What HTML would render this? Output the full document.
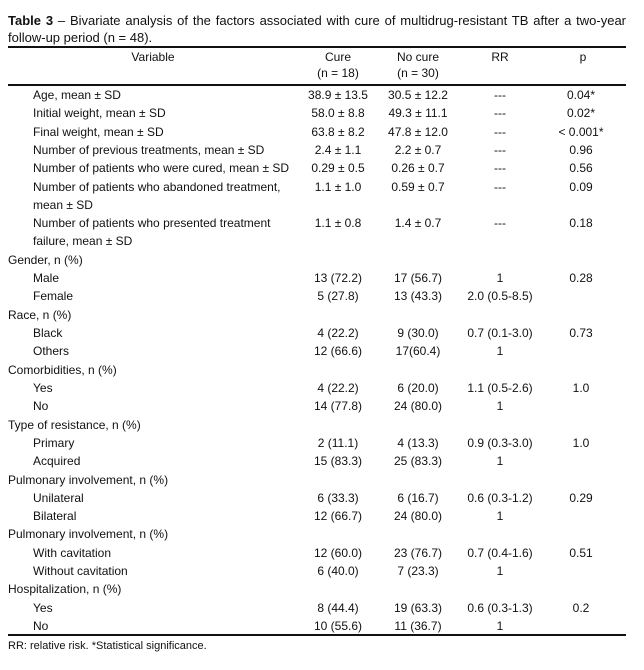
<!DOCTYPE html>
<html>
<head>
<meta charset="utf-8">
<style>
  html,body{margin:0;padding:0;background:#fff;}
  body{width:644px;height:670px;position:relative;overflow:hidden;
       font-family:"Liberation Sans",sans-serif;color:#111;font-size:12px;}
  .t{position:absolute;line-height:16px;white-space:nowrap;}
  .c{position:absolute;line-height:16px;white-space:nowrap;width:120px;text-align:center;}
  .rule{position:absolute;left:8px;width:618px;height:1px;background:#111;}
  .title{position:absolute;left:8px;top:12px;width:618px;font-size:13px;line-height:17px;
         text-align:justify;text-align-last:left;}
  .fn{position:absolute;left:8px;font-size:11px;line-height:14px;white-space:nowrap;}
</style>
</head>
<body>
<div class="title"><b>Table 3</b> – Bivariate analysis of the factors associated with cure of multidrug-resistant TB after a two-year follow-up period (n = 48).</div>

<div class="rule" style="top:46px;height:1.5px;"></div>
<div class="c" style="left:93px;top:49px;">Variable</div>
<div class="c" style="left:278px;top:49px;">Cure</div>
<div class="c" style="left:278px;top:65px;">(n = 18)</div>
<div class="c" style="left:358px;top:49px;">No cure</div>
<div class="c" style="left:358px;top:65px;">(n = 30)</div>
<div class="c" style="left:440px;top:49px;">RR</div>
<div class="c" style="left:523px;top:49px;">p</div>
<div class="rule" style="top:84px;height:1.5px;"></div>

<div class="t" style="left:33px;top:87px;">Age, mean ± SD</div>
<div class="c" style="left:278px;top:87px;">38.9 ± 13.5</div>
<div class="c" style="left:358px;top:87px;">30.5 ± 12.2</div>
<div class="c" style="left:440px;top:87px;">---</div>
<div class="c" style="left:521px;top:87px;">0.04*</div>

<div class="t" style="left:33px;top:105px;">Initial weight, mean ± SD</div>
<div class="c" style="left:278px;top:105px;">58.0 ± 8.8</div>
<div class="c" style="left:358px;top:105px;">49.3 ± 11.1</div>
<div class="c" style="left:440px;top:105px;">---</div>
<div class="c" style="left:521px;top:105px;">0.02*</div>

<div class="t" style="left:33px;top:124px;">Final weight, mean ± SD</div>
<div class="c" style="left:278px;top:124px;">63.8 ± 8.2</div>
<div class="c" style="left:358px;top:124px;">47.8 ± 12.0</div>
<div class="c" style="left:440px;top:124px;">---</div>
<div class="c" style="left:521px;top:124px;">&lt; 0.001*</div>

<div class="t" style="left:33px;top:142px;">Number of previous treatments, mean ± SD</div>
<div class="c" style="left:278px;top:142px;">2.4 ± 1.1</div>
<div class="c" style="left:358px;top:142px;">2.2 ± 0.7</div>
<div class="c" style="left:440px;top:142px;">---</div>
<div class="c" style="left:521px;top:142px;">0.96</div>

<div class="t" style="left:33px;top:160px;">Number of patients who were cured, mean ± SD</div>
<div class="c" style="left:278px;top:160px;">0.29 ± 0.5</div>
<div class="c" style="left:358px;top:160px;">0.26 ± 0.7</div>
<div class="c" style="left:440px;top:160px;">---</div>
<div class="c" style="left:521px;top:160px;">0.56</div>

<div class="t" style="left:33px;top:179px;">Number of patients who abandoned treatment,</div>
<div class="c" style="left:278px;top:179px;">1.1 ± 1.0</div>
<div class="c" style="left:358px;top:179px;">0.59 ± 0.7</div>
<div class="c" style="left:440px;top:179px;">---</div>
<div class="c" style="left:521px;top:179px;">0.09</div>
<div class="t" style="left:33px;top:197px;">mean ± SD</div>

<div class="t" style="left:33px;top:215px;">Number of patients who presented treatment</div>
<div class="c" style="left:278px;top:215px;">1.1 ± 0.8</div>
<div class="c" style="left:358px;top:215px;">1.4 ± 0.7</div>
<div class="c" style="left:440px;top:215px;">---</div>
<div class="c" style="left:521px;top:215px;">0.18</div>
<div class="t" style="left:33px;top:233px;">failure, mean ± SD</div>

<div class="t" style="left:8px;top:252px;">Gender, n (%)</div>
<div class="t" style="left:33px;top:270px;">Male</div>
<div class="c" style="left:278px;top:270px;">13 (72.2)</div>
<div class="c" style="left:358px;top:270px;">17 (56.7)</div>
<div class="c" style="left:440px;top:270px;">1</div>
<div class="c" style="left:521px;top:270px;">0.28</div>
<div class="t" style="left:33px;top:288px;">Female</div>
<div class="c" style="left:278px;top:288px;">5 (27.8)</div>
<div class="c" style="left:358px;top:288px;">13 (43.3)</div>
<div class="c" style="left:440px;top:288px;">2.0 (0.5-8.5)</div>

<div class="t" style="left:8px;top:307px;">Race, n (%)</div>
<div class="t" style="left:33px;top:325px;">Black</div>
<div class="c" style="left:278px;top:325px;">4 (22.2)</div>
<div class="c" style="left:358px;top:325px;">9 (30.0)</div>
<div class="c" style="left:440px;top:325px;">0.7 (0.1-3.0)</div>
<div class="c" style="left:521px;top:325px;">0.73</div>
<div class="t" style="left:33px;top:343px;">Others</div>
<div class="c" style="left:278px;top:343px;">12 (66.6)</div>
<div class="c" style="left:358px;top:343px;">17(60.4)</div>
<div class="c" style="left:440px;top:343px;">1</div>

<div class="t" style="left:8px;top:362px;">Comorbidities, n (%)</div>
<div class="t" style="left:33px;top:380px;">Yes</div>
<div class="c" style="left:278px;top:380px;">4 (22.2)</div>
<div class="c" style="left:358px;top:380px;">6 (20.0)</div>
<div class="c" style="left:440px;top:380px;">1.1 (0.5-2.6)</div>
<div class="c" style="left:521px;top:380px;">1.0</div>
<div class="t" style="left:33px;top:398px;">No</div>
<div class="c" style="left:278px;top:398px;">14 (77.8)</div>
<div class="c" style="left:358px;top:398px;">24 (80.0)</div>
<div class="c" style="left:440px;top:398px;">1</div>

<div class="t" style="left:8px;top:417px;">Type of resistance, n (%)</div>
<div class="t" style="left:33px;top:435px;">Primary</div>
<div class="c" style="left:278px;top:435px;">2 (11.1)</div>
<div class="c" style="left:358px;top:435px;">4 (13.3)</div>
<div class="c" style="left:440px;top:435px;">0.9 (0.3-3.0)</div>
<div class="c" style="left:521px;top:435px;">1.0</div>
<div class="t" style="left:33px;top:453px;">Acquired</div>
<div class="c" style="left:278px;top:453px;">15 (83.3)</div>
<div class="c" style="left:358px;top:453px;">25 (83.3)</div>
<div class="c" style="left:440px;top:453px;">1</div>

<div class="t" style="left:8px;top:472px;">Pulmonary involvement, n (%)</div>
<div class="t" style="left:33px;top:490px;">Unilateral</div>
<div class="c" style="left:278px;top:490px;">6 (33.3)</div>
<div class="c" style="left:358px;top:490px;">6 (16.7)</div>
<div class="c" style="left:440px;top:490px;">0.6 (0.3-1.2)</div>
<div class="c" style="left:521px;top:490px;">0.29</div>
<div class="t" style="left:33px;top:508px;">Bilateral</div>
<div class="c" style="left:278px;top:508px;">12 (66.7)</div>
<div class="c" style="left:358px;top:508px;">24 (80.0)</div>
<div class="c" style="left:440px;top:508px;">1</div>

<div class="t" style="left:8px;top:526px;">Pulmonary involvement, n (%)</div>
<div class="t" style="left:33px;top:545px;">With cavitation</div>
<div class="c" style="left:278px;top:545px;">12 (60.0)</div>
<div class="c" style="left:358px;top:545px;">23 (76.7)</div>
<div class="c" style="left:440px;top:545px;">0.7 (0.4-1.6)</div>
<div class="c" style="left:521px;top:545px;">0.51</div>
<div class="t" style="left:33px;top:563px;">Without cavitation</div>
<div class="c" style="left:278px;top:563px;">6 (40.0)</div>
<div class="c" style="left:358px;top:563px;">7 (23.3)</div>
<div class="c" style="left:440px;top:563px;">1</div>

<div class="t" style="left:8px;top:581px;">Hospitalization, n (%)</div>
<div class="t" style="left:33px;top:600px;">Yes</div>
<div class="c" style="left:278px;top:600px;">8 (44.4)</div>
<div class="c" style="left:358px;top:600px;">19 (63.3)</div>
<div class="c" style="left:440px;top:600px;">0.6 (0.3-1.3)</div>
<div class="c" style="left:521px;top:600px;">0.2</div>
<div class="t" style="left:33px;top:618px;">No</div>
<div class="c" style="left:278px;top:618px;">10 (55.6)</div>
<div class="c" style="left:358px;top:618px;">11 (36.7)</div>
<div class="c" style="left:440px;top:618px;">1</div>

<div class="rule" style="top:634px;height:1.5px;"></div>
<div class="fn" style="top:639px;">RR: relative risk. *Statistical significance.</div>
</body>
</html>
